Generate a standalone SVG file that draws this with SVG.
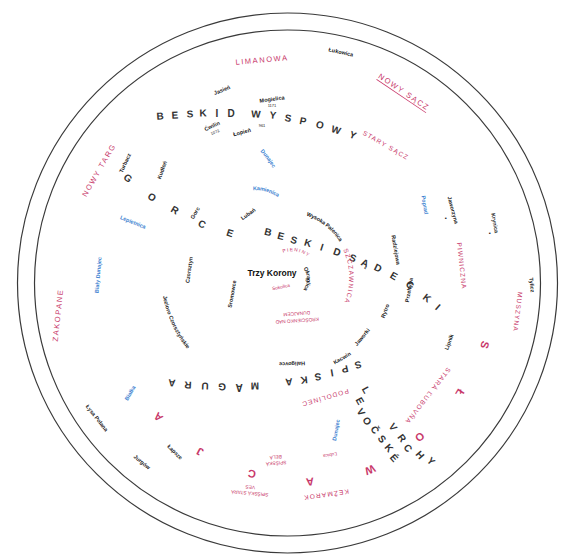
<svg xmlns="http://www.w3.org/2000/svg" width="573" height="554" viewBox="0 0 573 554">
<style>
text{font-family:"Liberation Sans",Arial,sans-serif;text-anchor:middle;dominant-baseline:central}
.ring{fill:none;stroke:#3a3a3a;stroke-width:1.2}
.rg{font-size:10px;fill:#333;font-weight:bold}
.tw{font-size:7.5px;fill:#c8386a;letter-spacing:1.6px}
.tws{font-size:6.5px;fill:#c8386a;letter-spacing:1.2px}
.pks{font-size:4.8px;fill:#c8386a}
.lb{font-size:5.5px;fill:#1a1a1a;font-weight:bold}
.lbs{font-size:4px;fill:#1a1a1a}
.rv{font-size:5.5px;fill:#3b7fd0;font-weight:bold}
.sk{font-size:11px;fill:#c8386a;font-weight:bold}
.tk{font-size:8.5px;fill:#111;font-weight:bold}
</style>
<defs>
<path id="pNied" d="M163,282 Q167,327 198,358"/>
<path id="pPal" d="M302,212 Q331,221 344,245"/>
<path id="pOkr" d="M302,263 Q316,279 302,295"/>
<path id="pPien" d="M278,253 Q297,243 314,259"/>
<path id="pSzcz" d="M344,244 Q360,276 345,309"/>
<path id="pDun1" d="M256,145 Q269,155 278,174"/>
<path id="pKam" d="M247,189 Q266,185 284,199"/>
</defs>
<rect width="573" height="554" fill="#fff"/>
<g id="rings">
<circle class="ring" cx="287.5" cy="283" r="270"/>
<circle class="ring" cx="287.5" cy="283" r="253"/>
</g>
<g id="beskid-wyspowy">
<text class="rg" x="160" y="116" transform="rotate(-4 160 116)">B</text>
<text class="rg" x="175" y="115" transform="rotate(-3 175 115)">E</text>
<text class="rg" x="190" y="114" transform="rotate(-2 190 114)">S</text>
<text class="rg" x="203" y="113" transform="rotate(-1 203 113)">K</text>
<text class="rg" x="217" y="113">I</text>
<text class="rg" x="231" y="113">D</text>
<text class="rg" x="256" y="114" transform="rotate(3 256 114)">W</text>
<text class="rg" x="273" y="115" transform="rotate(6 273 115)">Y</text>
<text class="rg" x="288" y="118" transform="rotate(9 288 118)">S</text>
<text class="rg" x="303" y="121" transform="rotate(12 303 121)">P</text>
<text class="rg" x="320" y="125" transform="rotate(15 320 125)">O</text>
<text class="rg" x="336" y="130" transform="rotate(18 336 130)">W</text>
<text class="rg" x="353" y="135" transform="rotate(22 353 135)">Y</text>
</g>
<g id="gorce">
<text class="rg" x="128" y="178" transform="rotate(40 128 178)">G</text>
<text class="rg" x="152" y="197" transform="rotate(35 152 197)">O</text>
<text class="rg" x="175" y="210" transform="rotate(30 175 210)">R</text>
<text class="rg" x="202" y="224" transform="rotate(25 202 224)">C</text>
<text class="rg" x="230" y="233" transform="rotate(18 230 233)">E</text>
</g>
<g id="beskid-sadecki">
<text class="rg" x="268" y="232" transform="rotate(14 268 232)">B</text>
<text class="rg" x="281" y="236" transform="rotate(15 281 236)">E</text>
<text class="rg" x="294" y="240" transform="rotate(16 294 240)">S</text>
<text class="rg" x="308" y="243" transform="rotate(17 308 243)">K</text>
<text class="rg" x="322" y="247" transform="rotate(18 322 247)">I</text>
<text class="rg" x="337" y="252" transform="rotate(20 337 252)">D</text>
<text class="rg" x="353" y="258" transform="rotate(22 353 258)">S</text>
<text class="rg" x="365" y="263" transform="rotate(24 365 263)">Ą</text>
<text class="rg" x="378" y="268" transform="rotate(26 378 268)">D</text>
<text class="rg" x="394" y="276" transform="rotate(30 394 276)">E</text>
<text class="rg" x="410" y="285" transform="rotate(34 410 285)">C</text>
<text class="rg" x="427" y="298" transform="rotate(38 427 298)">K</text>
<text class="rg" x="438" y="307" transform="rotate(42 438 307)">I</text>
</g>
<g id="spiska-magura">
<text class="rg" x="358" y="365" transform="rotate(166 358 365)">S</text>
<text class="rg" x="345" y="369" transform="rotate(168 345 369)">P</text>
<text class="rg" x="332" y="373" transform="rotate(170 332 373)">I</text>
<text class="rg" x="318" y="377" transform="rotate(172 318 377)">S</text>
<text class="rg" x="304" y="380" transform="rotate(174 304 380)">K</text>
<text class="rg" x="289" y="382" transform="rotate(176 289 382)">A</text>
<text class="rg" x="255" y="386" transform="rotate(179 255 386)">M</text>
<text class="rg" x="239" y="387" transform="rotate(180 239 387)">A</text>
<text class="rg" x="222" y="387" transform="rotate(181 222 387)">G</text>
<text class="rg" x="205" y="386" transform="rotate(182 205 386)">U</text>
<text class="rg" x="188" y="385" transform="rotate(183 188 385)">R</text>
<text class="rg" x="172" y="383" transform="rotate(184 172 383)">A</text>
</g>
<g id="levocske-vrchy">
<text class="rg" x="366" y="390" transform="rotate(60 366 390)">L</text>
<text class="rg" x="360" y="401" transform="rotate(60 360 401)">E</text>
<text class="rg" x="361" y="412" transform="rotate(58 361 412)">V</text>
<text class="rg" x="367" y="421" transform="rotate(56 367 421)">O</text>
<text class="rg" x="375" y="430" transform="rotate(54 375 430)">Č</text>
<text class="rg" x="382" y="439" transform="rotate(52 382 439)">S</text>
<text class="rg" x="389" y="448" transform="rotate(50 389 448)">K</text>
<text class="rg" x="394" y="458" transform="rotate(48 394 458)">É</text>
<text class="rg" x="393" y="427" transform="rotate(55 393 427)">V</text>
<text class="rg" x="402" y="438" transform="rotate(53 402 438)">R</text>
<text class="rg" x="408" y="448" transform="rotate(51 408 448)">C</text>
<text class="rg" x="420" y="455" transform="rotate(49 420 455)">H</text>
<text class="rg" x="431" y="461" transform="rotate(47 431 461)">Y</text>
</g>
<g id="slowacja">
<text class="sk" x="485" y="345" transform="rotate(107 485 345)">S</text>
<text class="sk" x="460" y="393" transform="rotate(122 460 393)">Ł</text>
<text class="sk" x="420" y="437" transform="rotate(139 420 437)">O</text>
<text class="sk" x="370" y="470" transform="rotate(156 370 470)">W</text>
<text class="sk" x="310" y="482" transform="rotate(173 310 482)">A</text>
<text class="sk" x="252" y="474" transform="rotate(190 252 474)">C</text>
<text class="sk" x="200" y="452" transform="rotate(207 200 452)">J</text>
<text class="sk" x="158" y="417" transform="rotate(224 158 417)">A</text>
</g>
<g id="towns">
<text class="tw" x="262" y="60" transform="rotate(-5 262 60)">LIMANOWA</text>
<text class="tw" x="404" y="92" transform="rotate(34 404 92)" text-decoration="underline">NOWY SĄCZ</text>
<text class="tws" x="386" y="145" transform="rotate(30 386 145)">STARY SĄCZ</text>
<text class="tw" x="99" y="170" transform="rotate(-60 99 170)">NOWY TARG</text>
<text class="tw" x="58" y="315" transform="rotate(-84 58 315)">ZAKOPANE</text>
<text class="tws" x="462" y="266" transform="rotate(84 462 266)">PIWNICZNA</text>
<text class="tws" x="518" y="312" transform="rotate(97 518 312)">MUSZYNA</text>
<text class="tws" x="428" y="396" transform="rotate(128 428 396)">STARÁ ĽUBOVŇA</text>
<text class="tws" x="325" y="398" transform="rotate(164 325 398)">PODOLÍNEC</text>
<text class="tws" x="326" y="495" transform="rotate(172 326 495)">KEŽMAROK</text>
<text class="pks" x="330" y="455" transform="rotate(170 330 455)">Ľubica</text>
<g transform="translate(276 460) rotate(176)"><text class="pks" y="-3">SPIŠSKÁ</text><text class="pks" y="3">BELÁ</text></g>
<g transform="translate(250 490) rotate(185)"><text class="pks" y="-3">SPIŠSKÁ STARÁ</text><text class="pks" y="3">VES</text></g>
<g transform="translate(297 317) rotate(176)"><text class="pks" y="-3.5">KROŚCIENKO NAD</text><text class="pks" y="3.5">DUNAJCEM</text></g>
<text class="pks" x="281" y="287" transform="rotate(-12 281 287)">Sokolica</text>
<text class="tws" style="letter-spacing:1.5px"><textPath href="#pSzcz" startOffset="50%">SZCZAWNICA</textPath></text>
<text class="pks" style="letter-spacing:1.5px"><textPath href="#pPien" startOffset="50%">PIENINY</textPath></text>
</g>
<g id="peaks">
<text class="tk" x="272" y="273">Trzy Korony</text>
<text class="lb" x="341" y="52" transform="rotate(12 341 52)">Łukowica</text>
<text class="lb" x="222" y="90" transform="rotate(-22 222 90)">Jasień</text>
<text class="lb" x="272" y="99" transform="rotate(-8 272 99)">Mogielica</text>
<text class="lbs" x="272" y="105">1171</text>
<text class="lb" x="212" y="126" transform="rotate(-25 212 126)">Ćwilin</text>
<text class="lbs" x="215" y="132" transform="rotate(-25 215 132)">1072</text>
<text class="lb" x="242" y="132" transform="rotate(-15 242 132)">Łopień</text>
<text class="lbs" x="262" y="125">961</text>
<text class="lb" x="125" y="163" transform="rotate(-65 125 163)">Turbacz</text>
<text class="lb" x="162" y="170" transform="rotate(-70 162 170)">Kudłoń</text>
<text class="lb" x="195" y="213" transform="rotate(-60 195 213)">Gorc</text>
<text class="lb" x="248" y="214" transform="rotate(-35 248 214)">Lubań</text>
<text class="lb" x="189" y="270" transform="rotate(-82 189 270)">Czorsztyn</text>
<text class="lb"><textPath href="#pNied" startOffset="50%">Jezioro Czorsztyńskie</textPath></text>
<text class="lb" x="232" y="294" transform="rotate(-80 232 294)">Sromowce</text>
<text class="lb"><textPath href="#pPal" startOffset="50%">Wysoka Palenica</textPath></text>
<text class="lb"><textPath href="#pOkr" startOffset="50%">Okrąglica</textPath></text>
<text class="lb" x="396" y="250" transform="rotate(80 396 250)">Radziejowa</text>
<text class="lb" x="409" y="290" transform="rotate(-80 409 290)">Przehyba</text>
<text class="lb" x="385" y="311" transform="rotate(-70 385 311)">Rytro</text>
<text class="lb" x="362" y="337" transform="rotate(-50 362 337)">Jaworki</text>
<text class="lb" x="453" y="210" transform="rotate(75 453 210)">Jaworzyna</text>
<text class="lb" x="446" y="218">▪</text>
<text class="lb" x="495" y="223" transform="rotate(80 495 223)">Krynica</text>
<text class="lb" x="490" y="233">▪</text>
<text class="lb" x="532" y="285" transform="rotate(85 532 285)">Tylicz</text>
<text class="lb" x="449" y="342" transform="rotate(-70 449 342)">Lipník</text>
<text class="lb" x="342" y="358" transform="rotate(-30 342 358)">Kacwin</text>
<text class="lb" x="292" y="364" transform="rotate(178 292 364)">Haligovce</text>
<text class="lb" x="97" y="418" transform="rotate(52 97 418)">Łysa Polana</text>
<text class="lb" x="142" y="462" transform="rotate(40 142 462)">Jurgów</text>
<text class="lb" x="175" y="452" transform="rotate(45 175 452)">Łapsze</text>
</g>
<g id="rivers">
<text class="rv"><textPath href="#pDun1" startOffset="50%">Dunajec</textPath></text>
<text class="rv"><textPath href="#pKam" startOffset="50%">Kamienica</textPath></text>
<text class="rv" x="133" y="222" transform="rotate(22 133 222)">Lepietnica</text>
<text class="rv" x="98" y="275" transform="rotate(-85 98 275)">Biały Dunajec</text>
<text class="rv" x="425" y="205" transform="rotate(80 425 205)">Poprad</text>
<text class="rv" x="130" y="393" transform="rotate(-60 130 393)">Białka</text>
<text class="rv" x="336" y="430" transform="rotate(-80 336 430)">Dunajec</text>
</g>
</svg>
